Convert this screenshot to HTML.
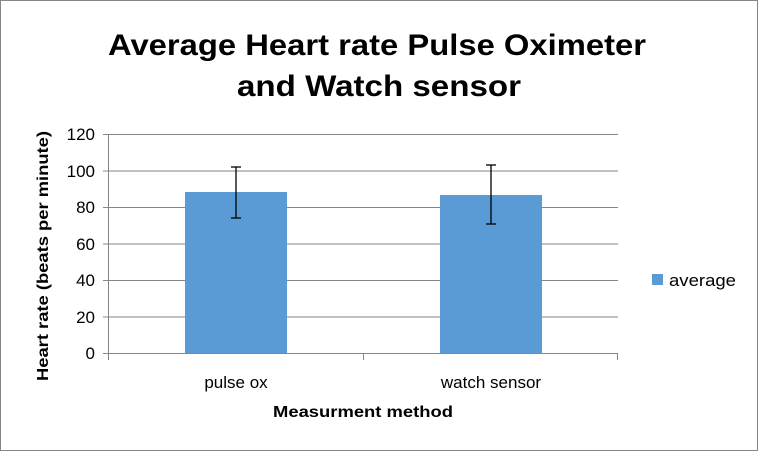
<!DOCTYPE html>
<html><head><style>body{margin:0;background:#fff}svg{display:block}</style></head>
<body>
<svg width="758" height="451" xmlns="http://www.w3.org/2000/svg" font-family="Liberation Sans, sans-serif">
<rect x="0.5" y="0.5" width="757" height="450" fill="#fff" stroke="#868686"/>
<text x="377" y="55" font-size="30" font-weight="bold" text-anchor="middle" textLength="538" lengthAdjust="spacingAndGlyphs">Average Heart rate Pulse Oximeter</text>
<text x="379" y="96" font-size="30" font-weight="bold" text-anchor="middle" textLength="284" lengthAdjust="spacingAndGlyphs">and  Watch sensor</text>
<g stroke="#868686" stroke-width="1">
<line x1="103" y1="134.5" x2="618" y2="134.5"/>
<line x1="103" y1="171" x2="618" y2="171"/>
<line x1="103" y1="207.5" x2="618" y2="207.5"/>
<line x1="103" y1="244" x2="618" y2="244"/>
<line x1="103" y1="280.5" x2="618" y2="280.5"/>
<line x1="103" y1="317" x2="618" y2="317"/>
<line x1="103" y1="353.5" x2="618" y2="353.5"/>
<line x1="108.5" y1="134" x2="108.5" y2="360"/>
<line x1="363.5" y1="353" x2="363.5" y2="360"/>
<line x1="617.5" y1="353" x2="617.5" y2="360"/>
</g>
<rect x="185" y="192" width="102" height="161" fill="#5b9bd5"/>
<rect x="440" y="195" width="102" height="158" fill="#5b9bd5"/>
<g stroke="#000" stroke-width="1.3">
<line x1="236" y1="167" x2="236" y2="218"/><line x1="231" y1="167" x2="241" y2="167"/><line x1="231" y1="218" x2="241" y2="218"/>
<line x1="491" y1="165" x2="491" y2="224"/><line x1="486" y1="165" x2="496" y2="165"/><line x1="486" y1="224" x2="496" y2="224"/>
</g>
<g font-size="17" text-anchor="end" fill="#000">
<text x="95" y="140">120</text><text x="95" y="177">100</text><text x="95" y="213">80</text><text x="95" y="250">60</text><text x="95" y="286">40</text><text x="95" y="323">20</text><text x="95" y="359">0</text>
</g>
<g font-size="17" text-anchor="middle">
<text x="236" y="388">pulse ox</text><text x="491" y="388">watch sensor</text>
</g>
<text x="363" y="417" font-size="16" font-weight="bold" text-anchor="middle" textLength="180" lengthAdjust="spacingAndGlyphs">Measurment method</text>
<text transform="translate(48,256) rotate(-90)" font-size="16" font-weight="bold" text-anchor="middle" textLength="250" lengthAdjust="spacingAndGlyphs">Heart rate (beats per minute)</text>
<rect x="652" y="274" width="11" height="11" fill="#5b9bd5"/>
<text x="669" y="286" font-size="17" textLength="67" lengthAdjust="spacingAndGlyphs">average</text>
</svg>
</body></html>
